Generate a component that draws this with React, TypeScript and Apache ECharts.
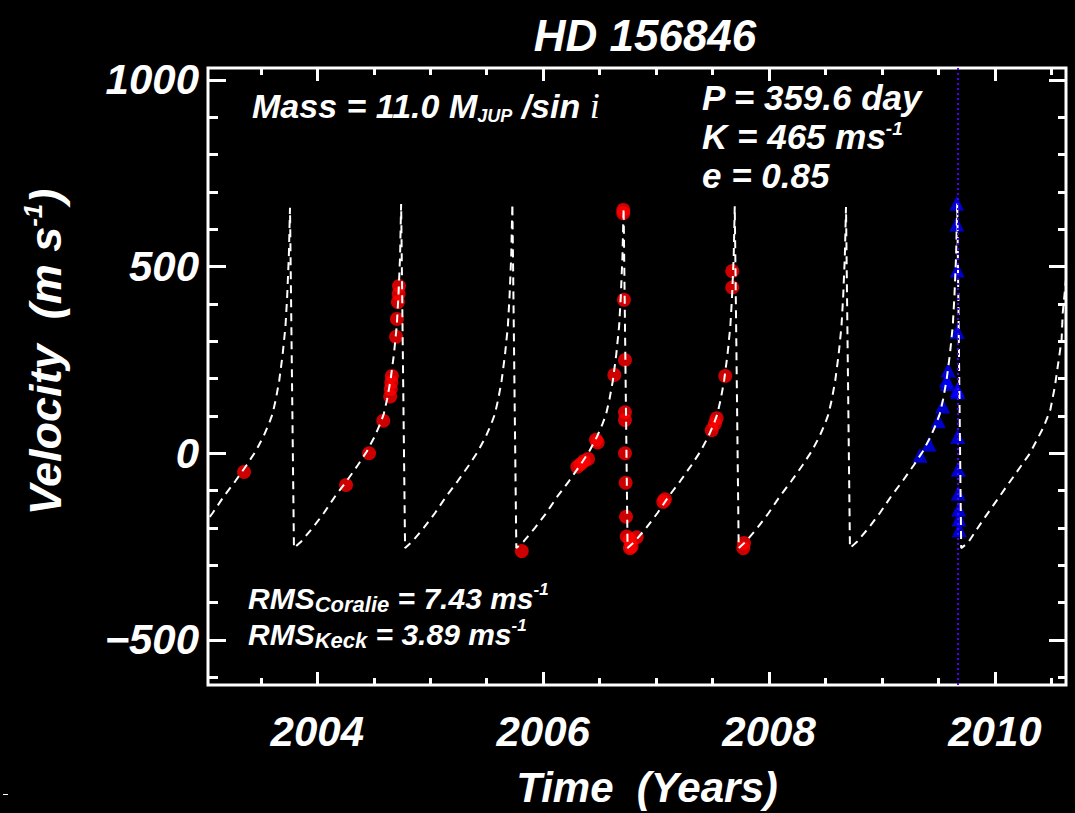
import React, { useEffect, useRef } from "react";
import * as echarts from "echarts";

// ---------- data ----------
const titleText = "HD 156846";
const xTickYears = [2004, 2006, 2008, 2010];
const yTickValues = [-500, 0, 500, 1000];
const xRange = [2003.032, 2010.629];
const yRange = [-620.7, 1032.1];
const transitLineYear = 2009.67;

// Keplerian model (dashed white): [year, m/s]
const modelCurve: [number, number][] = [
  [2002.973, -200], [2003.073, -160], [2003.173, -115], [2003.273, -75], [2003.373, -32],
  [2003.453, 5], [2003.523, 45], [2003.573, 80], [2003.603, 105], [2003.633, 145],
  [2003.663, 195], [2003.693, 265], [2003.718, 340], [2003.733, 420], [2003.748, 530],
  [2003.758, 658],
  [2003.793, -254], [2003.858, -236], [2003.958, -200], [2004.058, -160], [2004.158, -115],
  [2004.258, -75], [2004.358, -32], [2004.438, 5], [2004.508, 45], [2004.558, 80],
  [2004.588, 105], [2004.618, 145], [2004.648, 195], [2004.678, 265], [2004.703, 340],
  [2004.718, 420], [2004.733, 530], [2004.742, 668],
  [2004.777, -254], [2004.842, -236], [2004.942, -200], [2005.042, -160], [2005.142, -115],
  [2005.242, -75], [2005.342, -32], [2005.422, 5], [2005.492, 45], [2005.542, 80],
  [2005.572, 105], [2005.602, 145], [2005.632, 195], [2005.662, 265], [2005.687, 340],
  [2005.702, 420], [2005.717, 530], [2005.727, 668],
  [2005.762, -254], [2005.827, -236], [2005.927, -200], [2006.027, -160], [2006.127, -115],
  [2006.227, -75], [2006.327, -32], [2006.407, 5], [2006.477, 45], [2006.527, 80],
  [2006.557, 105], [2006.587, 145], [2006.617, 195], [2006.647, 265], [2006.672, 340],
  [2006.687, 420], [2006.702, 530], [2006.712, 657],
  [2006.747, -254], [2006.812, -236], [2006.912, -200], [2007.012, -160], [2007.112, -115],
  [2007.212, -75], [2007.312, -32], [2007.392, 5], [2007.462, 45], [2007.512, 80],
  [2007.542, 105], [2007.572, 145], [2007.602, 195], [2007.632, 265], [2007.657, 340],
  [2007.672, 420], [2007.687, 530], [2007.696, 662],
  [2007.731, -254], [2007.796, -236], [2007.896, -200], [2007.996, -160], [2008.096, -115],
  [2008.196, -75], [2008.296, -32], [2008.376, 5], [2008.446, 45], [2008.496, 80],
  [2008.526, 105], [2008.556, 145], [2008.586, 195], [2008.616, 265], [2008.641, 340],
  [2008.656, 420], [2008.671, 530], [2008.681, 660],
  [2008.716, -254], [2008.781, -236], [2008.881, -200], [2008.981, -160], [2009.081, -115],
  [2009.181, -75], [2009.281, -32], [2009.361, 5], [2009.431, 45], [2009.481, 80],
  [2009.511, 105], [2009.541, 145], [2009.571, 195], [2009.601, 265], [2009.626, 340],
  [2009.641, 420], [2009.656, 530], [2009.666, 670],
  [2009.701, -254], [2009.760, -240], [2009.894, -179], [2010.100, -90], [2010.310, 0],
  [2010.430, 70], [2010.490, 116], [2010.530, 178], [2010.590, 304], [2010.600, 376],
  [2010.640, 500],
];

// Coralie velocities (red circles)
const coralie: [number, number][] = [
  [2003.351, -50], [2004.254, -85], [2004.458, 0], [2004.584, 87],
  [2004.645, 152], [2004.650, 172], [2004.655, 190], [2004.660, 207],
  [2004.697, 312], [2004.705, 360], [2004.714, 405], [2004.720, 427], [2004.723, 448],
  [2005.810, -262],
  [2006.302, -36], [2006.332, -29], [2006.361, -21], [2006.397, -15],
  [2006.467, 36], [2006.482, 29], [2006.630, 210],
  [2006.709, 643], [2006.709, 652], [2006.715, 411], [2006.724, 250],
  [2006.724, 110], [2006.724, 89], [2006.724, 0], [2006.730, -79],
  [2006.733, -170], [2006.739, -223],
  [2006.768, -232], [2006.828, -225], [2006.768, -254], [2006.783, -250],
  [2007.063, -130], [2007.078, -123],
  [2007.492, 62], [2007.521, 80], [2007.536, 94], [2007.612, 207],
  [2007.674, 444], [2007.674, 488],
  [2007.772, -254], [2007.778, -240],
];

// Keck velocities (blue triangles)
const keck: [number, number][] = [
  [2009.336, -5], [2009.416, 25], [2009.498, 87], [2009.537, 127],
  [2009.572, 196], [2009.578, 187], [2009.586, 223],
  [2009.661, 670], [2009.661, 614], [2009.666, 491], [2009.666, 326],
  [2009.666, 170], [2009.670, 165], [2009.670, 45], [2009.675, -43],
  [2009.675, -107], [2009.679, -150], [2009.681, -176], [2009.684, -205],
];

// ---------- layout ----------
const W = 1075;
const H = 813;
const BOX = { left: 208, right: 1066, top: 68, bottom: 685 };
const FONT = '"Liberation Sans", Arial, sans-serif';

const px = (v: number) =>
  BOX.left + ((v - xRange[0]) / (xRange[1] - xRange[0])) * (BOX.right - BOX.left);
const py = (v: number) =>
  BOX.bottom - ((v - yRange[0]) / (yRange[1] - yRange[0])) * (BOX.bottom - BOX.top);

const white = "#ffffff";
const txt = (size: number) => ({
  color: white,
  fontSize: size,
  fontWeight: "bold" as const,
  fontStyle: "italic" as const,
  fontFamily: FONT,
});

const hiddenAxis = (gridIndex: number) => ({
  gridIndex,
  type: "value" as const,
  show: false,
  min: 0,
  max: 1,
});

const tickAxis = (
  gridIndex: number,
  position: string,
  min: number,
  max: number,
  interval: number,
  len: number,
  labels: boolean,
  labelMargin: number
) => ({
  gridIndex,
  type: "value" as const,
  position,
  min,
  max,
  interval,
  axisLine: { show: false, onZero: false },
  axisTick: { show: true, inside: true, length: len, lineStyle: { color: white, width: 3 } },
  splitLine: { show: false },
  axisLabel: {
    show: labels,
    margin: labelMargin,
    ...txt(42),
    lineHeight: 42,
    formatter: (v: number) => (v < 0 ? "\u2212" + Math.abs(v) : String(v)),
  },
});

function buildOption() {
  const gx1 = { left: px(2003.5), width: px(2010.5) - px(2003.5), top: BOX.top, height: BOX.bottom - BOX.top };
  const gx2 = { left: px(xTickYears[0]), width: px(xTickYears[3]) - px(xTickYears[0]), top: BOX.top, height: BOX.bottom - BOX.top };
  const gy1 = { left: BOX.left, width: BOX.right - BOX.left, top: py(1000), height: py(-600) - py(1000) };
  const gy2 = { left: BOX.left, width: BOX.right - BOX.left, top: py(yTickValues[3]), height: py(yTickValues[0]) - py(yTickValues[3]) };

  return {
    animation: false,
    backgroundColor: "#000000",
    title: {
      text: titleText,
      left: 640,
      top: 8,
      textAlign: "center",
      textStyle: { ...txt(44), lineHeight: 44 },
    },
    grid: [
      {
        left: BOX.left,
        top: BOX.top,
        width: BOX.right - BOX.left,
        height: BOX.bottom - BOX.top,
        show: true,
        borderColor: white,
        borderWidth: 3,
        backgroundColor: "transparent",
      },
      gx1,
      gx2,
      gy1,
      gy2,
    ],
    xAxis: [
      {
        gridIndex: 0,
        type: "value",
        min: xRange[0],
        max: xRange[1],
        axisLine: { show: false, onZero: false },
        axisTick: { show: false },
        axisLabel: { show: false },
        splitLine: { show: false },
        name: "Time  (Years)",
        nameLocation: "middle",
        nameGap: 81,
        nameTextStyle: { ...txt(42), lineHeight: 42, padding: [0, 0, 0, 20] },
      },
      tickAxis(1, "bottom", 2003.5, 2010.5, 0.5, 7, false, 0),
      tickAxis(1, "top", 2003.5, 2010.5, 0.5, 7, false, 0),
      tickAxis(2, "bottom", xTickYears[0], xTickYears[3], 2, 13, true, 25),
      tickAxis(2, "top", xTickYears[0], xTickYears[3], 2, 13, false, 0),
      hiddenAxis(3),
      hiddenAxis(4),
    ],
    yAxis: [
      {
        gridIndex: 0,
        type: "value",
        min: yRange[0],
        max: yRange[1],
        axisLine: { show: false, onZero: false },
        axisTick: { show: false },
        axisLabel: { show: false },
        splitLine: { show: false },
      },
      hiddenAxis(1),
      hiddenAxis(2),
      tickAxis(3, "left", -600, 1000, 100, 10, false, 0),
      tickAxis(3, "right", -600, 1000, 100, 8, false, 0),
      tickAxis(4, "left", yTickValues[0], yTickValues[3], 500, 18, true, 9),
      tickAxis(4, "right", yTickValues[0], yTickValues[3], 500, 17, false, 0),
    ],
    graphic: [
      {
        type: "text",
        x: 45,
        y: 352,
        rotation: Math.PI / 2,
        silent: true,
        style: {
          text: "{a|Velocity  (m s}{s|-1}{a|)}",
          align: "center",
          verticalAlign: "middle",
          fill: white,
          rich: {
            a: { ...txt(45), lineHeight: 50 },
            s: { ...txt(26), lineHeight: 28, verticalAlign: "top" },
          },
        },
      },
      {
        type: "text",
        x: 252,
        y: 106,
        silent: true,
        style: {
          text: "{a|Mass = 11.0 M}{b|JUP}{a| /sin }{i|i}",
          align: "left",
          verticalAlign: "middle",
          fill: white,
          rich: {
            a: { ...txt(34), lineHeight: 38 },
            b: { ...txt(18), lineHeight: 18, verticalAlign: "bottom" },
            i: { color: white, fontSize: 36, fontStyle: "italic", fontFamily: '"Liberation Serif", serif', lineHeight: 38 },
          },
        },
      },
      {
        type: "text",
        x: 702,
        y: 97,
        silent: true,
        style: { text: "P = 359.6 day", align: "left", verticalAlign: "middle", fill: white, ...txt(35), lineHeight: 34 },
      },
      {
        type: "text",
        x: 702,
        y: 136,
        silent: true,
        style: {
          text: "{a|K = 465 ms}{s|-1}",
          align: "left",
          verticalAlign: "middle",
          fill: white,
          rich: {
            a: { ...txt(35), lineHeight: 34 },
            s: { ...txt(19), lineHeight: 18, verticalAlign: "top" },
          },
        },
      },
      {
        type: "text",
        x: 702,
        y: 175,
        silent: true,
        style: { text: "e = 0.85", align: "left", verticalAlign: "middle", fill: white, ...txt(35), lineHeight: 34 },
      },
      {
        type: "text",
        x: 248,
        y: 598,
        silent: true,
        style: {
          text: "{a|RMS}{b|Coralie}{a| = 7.43 ms}{s|-1}",
          align: "left",
          verticalAlign: "middle",
          fill: white,
          rich: {
            a: { ...txt(30), lineHeight: 34 },
            b: { ...txt(22), lineHeight: 14, verticalAlign: "bottom" },
            s: { ...txt(17), lineHeight: 18, verticalAlign: "top" },
          },
        },
      },
      {
        type: "text",
        x: 248,
        y: 634,
        silent: true,
        style: {
          text: "{a|RMS}{b|Keck}{a| = 3.89 ms}{s|-1}",
          align: "left",
          verticalAlign: "middle",
          fill: white,
          rich: {
            a: { ...txt(30), lineHeight: 34 },
            b: { ...txt(22), lineHeight: 14, verticalAlign: "bottom" },
            s: { ...txt(17), lineHeight: 18, verticalAlign: "top" },
          },
        },
      },
      {
        type: "rect",
        silent: true,
        shape: { x: 3, y: 794, width: 5, height: 1 },
        style: { fill: white },
      },
    ],
    series: [
      {
        name: "Model",
        type: "line",
        xAxisIndex: 0,
        yAxisIndex: 0,
        data: modelCurve,
        showSymbol: false,
        symbol: "none",
        clip: true,
        z: 4,
        lineStyle: { color: white, width: 2, type: [8, 6] },
      },
      {
        name: "Coralie",
        type: "scatter",
        xAxisIndex: 0,
        yAxisIndex: 0,
        data: coralie,
        symbol: "circle",
        symbolSize: 14,
        z: 3,
        itemStyle: { color: "#ff0000" },
      },
      {
        name: "Keck",
        type: "scatter",
        xAxisIndex: 0,
        yAxisIndex: 0,
        data: keck,
        symbol: "triangle",
        symbolSize: 15,
        z: 3,
        itemStyle: { color: "#0000ff" },
        markLine: {
          silent: true,
          symbol: ["none", "none"],
          label: { show: false },
          lineStyle: { color: "#4a00ff", width: 2, type: [2, 3] },
          data: [{ xAxis: transitLineYear }],
        },
      },
    ],
  };
}

export default function App() {
  const ref = useRef<HTMLDivElement>(null);
  useEffect(() => {
    document.body.style.margin = "0";
    document.body.style.background = "#000";
    const chart = echarts.init(ref.current!, null, { renderer: "svg" });
    chart.setOption(buildOption() as any);
    return () => chart.dispose();
  }, []);
  return <div ref={ref} style={{ width: W, height: H, background: "#000" }} />;
}
